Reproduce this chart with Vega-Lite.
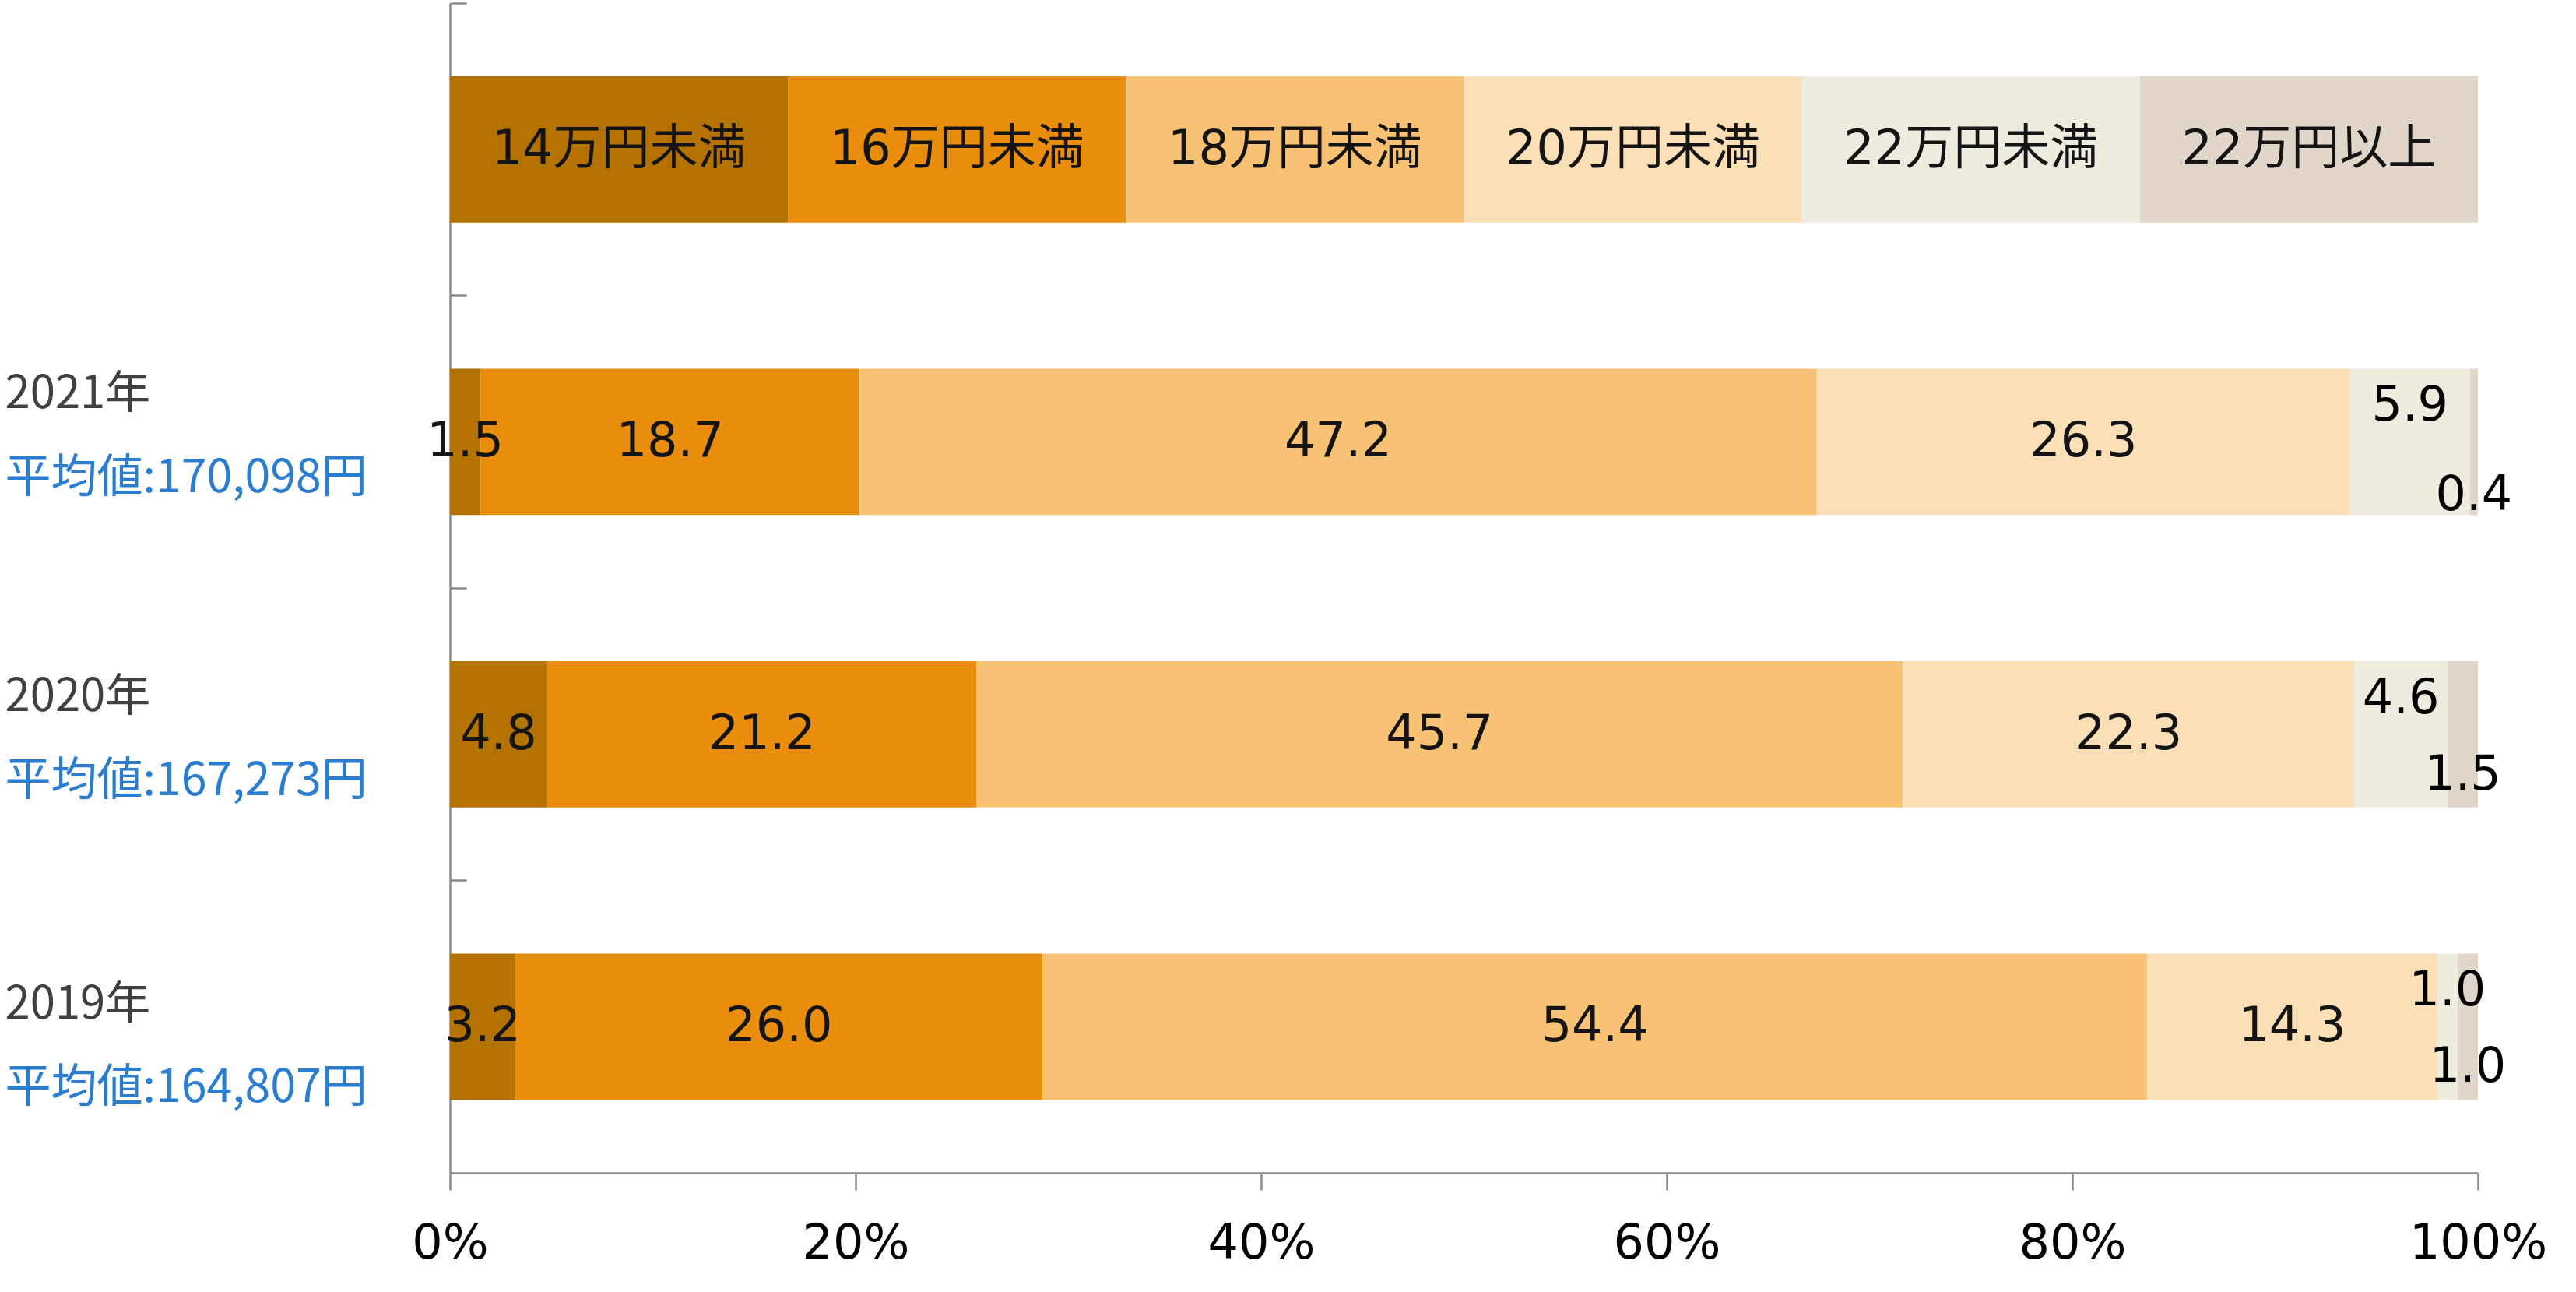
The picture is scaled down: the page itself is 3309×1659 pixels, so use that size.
{
  "$schema": "https://vega.github.io/schema/vega-lite/v6.json",
  "width": 2605,
  "height": 1502,
  "autosize": {"type": "none"},
  "padding": {"left": 578, "top": 4, "right": 126, "bottom": 153},
  "background": "white",
  "config": {"view": {"stroke": null}},
  "data": {
    "values": [
      {"row": "|", "cat": "14万円未満", "k": 1, "value": 1, "txt": "14万円未満"},
      {"row": "|", "cat": "16万円未満", "k": 2, "value": 1, "txt": "16万円未満"},
      {"row": "|", "cat": "18万円未満", "k": 3, "value": 1, "txt": "18万円未満"},
      {"row": "|", "cat": "20万円未満", "k": 4, "value": 1, "txt": "20万円未満"},
      {"row": "|", "cat": "22万円未満", "k": 5, "value": 1, "txt": "22万円未満"},
      {"row": "|", "cat": "22万円以上", "k": 6, "value": 1, "txt": "22万円以上"},
      {"row": "2021年|平均値:170,098円", "cat": "14万円未満", "k": 1, "value": 1.5, "txt": "1.5"},
      {"row": "2021年|平均値:170,098円", "cat": "16万円未満", "k": 2, "value": 18.7, "txt": "18.7"},
      {"row": "2021年|平均値:170,098円", "cat": "18万円未満", "k": 3, "value": 47.2, "txt": "47.2"},
      {"row": "2021年|平均値:170,098円", "cat": "20万円未満", "k": 4, "value": 26.3, "txt": "26.3"},
      {"row": "2021年|平均値:170,098円", "cat": "22万円未満", "k": 5, "value": 5.9, "txt": "5.9"},
      {"row": "2021年|平均値:170,098円", "cat": "22万円以上", "k": 6, "value": 0.4, "txt": "0.4"},
      {"row": "2020年|平均値:167,273円", "cat": "14万円未満", "k": 1, "value": 4.8, "txt": "4.8"},
      {"row": "2020年|平均値:167,273円", "cat": "16万円未満", "k": 2, "value": 21.2, "txt": "21.2"},
      {"row": "2020年|平均値:167,273円", "cat": "18万円未満", "k": 3, "value": 45.7, "txt": "45.7"},
      {"row": "2020年|平均値:167,273円", "cat": "20万円未満", "k": 4, "value": 22.3, "txt": "22.3"},
      {"row": "2020年|平均値:167,273円", "cat": "22万円未満", "k": 5, "value": 4.6, "txt": "4.6"},
      {"row": "2020年|平均値:167,273円", "cat": "22万円以上", "k": 6, "value": 1.5, "txt": "1.5"},
      {"row": "2019年|平均値:164,807円", "cat": "14万円未満", "k": 1, "value": 3.2, "txt": "3.2"},
      {"row": "2019年|平均値:164,807円", "cat": "16万円未満", "k": 2, "value": 26.0, "txt": "26.0"},
      {"row": "2019年|平均値:164,807円", "cat": "18万円未満", "k": 3, "value": 54.4, "txt": "54.4"},
      {"row": "2019年|平均値:164,807円", "cat": "20万円未満", "k": 4, "value": 14.3, "txt": "14.3"},
      {"row": "2019年|平均値:164,807円", "cat": "22万円未満", "k": 5, "value": 1.0, "txt": "1.0"},
      {"row": "2019年|平均値:164,807円", "cat": "22万円以上", "k": 6, "value": 1.0, "txt": "1.0"}
    ]
  },
  "layer": [
    {
      "mark": {"type": "bar"},
      "encoding": {
        "y": {
          "field": "row", "type": "nominal",
          "scale": {"domain": ["|", "2021年|平均値:170,098円", "2020年|平均値:167,273円", "2019年|平均値:164,807円"], "paddingInner": 0.5, "paddingOuter": 0.25},
          "axis": {"orient": "left", "title": null, "labels": false, "domain": true, "domainColor": "#8c8c8c", "domainWidth": 2.5, "ticks": true, "tickColor": "#8c8c8c", "tickWidth": 2.5, "tickSize": -21, "bandPosition": -0.5, "grid": false}
        },
        "x": {
          "field": "value", "type": "quantitative", "stack": "normalize",
          "scale": {"domain": [0, 1]},
          "axis": {"orient": "bottom", "title": null, "format": ".0%", "values": [0, 0.2, 0.4, 0.6, 0.8, 1], "grid": false, "domainColor": "#8c8c8c", "domainWidth": 2.5, "tickColor": "#8c8c8c", "tickWidth": 2.5, "tickSize": 22, "labelFont": "DejaVu Sans", "labelFontSize": 62, "labelColor": "#000000", "labelPadding": 38, "labelFlush": false, "labelOverlap": false}
        },
        "color": {
          "field": "cat", "type": "nominal",
          "scale": {"domain": ["14万円未満", "16万円未満", "18万円未満", "20万円未満", "22万円未満", "22万円以上"], "range": ["#b47300", "#e88e0c", "#f8c274", "#fbe0b7", "#eeebdf", "#e0d6ca"]},
          "legend": null
        },
        "order": {"field": "k", "type": "quantitative"}
      }
    },
    {
      "mark": {"type": "text", "font": "DejaVu Sans, Noto Sans CJK JP", "fontSize": 62, "color": "#141414", "baseline": "middle", "align": "center"},
      "encoding": {
        "y": {
          "field": "row", "type": "nominal",
          "axis": {"orient": "left", "title": null, "domain": false, "ticks": false, "tickSize": 0, "grid": false, "labelExpr": "split(datum.value, '|')[0]", "labelFont": "Noto Sans CJK JP", "labelFontSize": 58, "labelColor": "#404040", "labelAlign": "left", "labelBaseline": "middle", "labelPadding": 572, "labelLimit": 0, "labelOffset": {"condition": [{"test": "indexof(datum.value, '2021') == 0", "value": -60}, {"test": "indexof(datum.value, '2020') == 0", "value": -47}], "value": -27}}
        },
        "x": {"field": "value", "type": "quantitative", "stack": "normalize", "bandPosition": 0.5, "axis": null},
        "detail": {"field": "cat", "type": "nominal"},
        "order": {"field": "k", "type": "quantitative"},
        "text": {"condition": {"test": "datum.k <= 4 || datum.row == '|'", "field": "txt", "type": "nominal"}, "value": ""}
      }
    },
    {
      "mark": {"type": "text", "font": "DejaVu Sans", "fontSize": 62, "color": "#000000", "baseline": "middle", "align": "center", "dy": -46},
      "encoding": {
        "y": {
          "field": "row", "type": "nominal",
          "axis": {"orient": "left", "title": null, "domain": false, "ticks": false, "tickSize": 0, "grid": false, "labelExpr": "split(datum.value, '|')[1]", "labelFont": "Noto Sans CJK JP", "labelFontSize": 59, "labelColor": "#2b7dd0", "labelAlign": "left", "labelBaseline": "middle", "labelPadding": 572, "labelLimit": 0, "labelOffset": {"condition": [{"test": "indexof(datum.value, '2021') == 0", "value": 47}, {"test": "indexof(datum.value, '2020') == 0", "value": 60}], "value": 79}}
        },
        "x": {"field": "value", "type": "quantitative", "stack": "normalize", "bandPosition": 0.5, "axis": null},
        "detail": {"field": "cat", "type": "nominal"},
        "order": {"field": "k", "type": "quantitative"},
        "text": {"condition": {"test": "datum.k == 5 && datum.row != '|'", "field": "txt", "type": "nominal"}, "value": ""}
      }
    },
    {
      "mark": {"type": "text", "font": "DejaVu Sans", "fontSize": 62, "color": "#000000", "baseline": "middle", "align": "center", "dy": 52},
      "encoding": {
        "y": {"field": "row", "type": "nominal", "axis": null},
        "x": {"field": "value", "type": "quantitative", "stack": "normalize", "bandPosition": 0.5, "axis": null},
        "detail": {"field": "cat", "type": "nominal"},
        "order": {"field": "k", "type": "quantitative"},
        "text": {"condition": {"test": "datum.k == 6 && datum.row != '|' && indexof(datum.row, '2021') != 0", "field": "txt", "type": "nominal"}, "value": ""}
      }
    },
    {
      "mark": {"type": "text", "font": "DejaVu Sans", "fontSize": 62, "color": "#000000", "baseline": "middle", "align": "center", "dy": 69},
      "encoding": {
        "y": {"field": "row", "type": "nominal", "axis": null},
        "x": {"field": "value", "type": "quantitative", "stack": "normalize", "bandPosition": 0.5, "axis": null},
        "detail": {"field": "cat", "type": "nominal"},
        "order": {"field": "k", "type": "quantitative"},
        "text": {"condition": {"test": "datum.k == 6 && indexof(datum.row, '2021') == 0", "field": "txt", "type": "nominal"}, "value": ""}
      }
    }
  ],
  "resolve": {"axis": {"x": "independent", "y": "independent"}}
}
